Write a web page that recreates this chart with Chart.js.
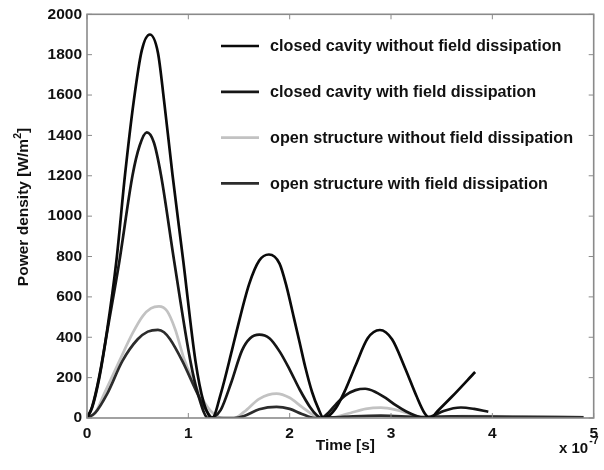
<!DOCTYPE html>
<html><head><meta charset="utf-8">
<script src="https://cdn.jsdelivr.net/npm/chart.js@4/dist/chart.umd.min.js"></script>
<style>html,body{margin:0;padding:0;background:#fff}#wrap{width:604px;height:470px}</style>
</head><body><div id="wrap"><canvas id="c" width="604" height="470"></canvas></div>
<script>
// ---- data (time in units of 1e-7 s, power density in W/m^2) ----
const seriesLabels = [
  'closed cavity without field dissipation',
  'closed cavity with field dissipation',
  'open structure without field dissipation',
  'open structure with field dissipation'
];
const s1T = [0,0.05,0.12,0.2,0.29,0.375,0.46,0.54,0.62,0.70,0.762,0.844,0.95,1.07,1.15,1.235,1.32,1.43,1.47,1.60,1.70,1.795,1.90,1.97,2.04,2.10,2.155,2.22,2.28,2.335,2.45,2.55,2.65,2.77,2.89,3.01,3.14,3.25,3.33,3.385,3.47,3.60,3.83];
const s1Y = [0,55,204,440,778,1204,1565,1820,1900,1810,1565,1204,778,283,80,0,120,335,417,663,780,810,765,650,500,370,250,130,50,0,45,140,260,395,436,390,245,110,25,0,40,105,228];
const s2T = [0,0.05,0.12,0.2,0.32,0.45,0.52,0.59,0.66,0.73,0.86,1.02,1.10,1.195,1.25,1.32,1.42,1.53,1.61,1.70,1.80,1.90,2.00,2.10,2.20,2.27,2.31,2.38,2.46,2.55,2.65,2.745,2.85,2.95,3.05,3.15,3.25,3.33,3.40,3.52,3.69,3.82,3.96];
const s2Y = [0,50,195,430,778,1204,1350,1415,1365,1204,778,283,110,0,5,40,171,335,395,413,395,330,240,140,55,12,0,25,70,112,138,145,128,98,62,32,10,0,8,35,52,45,31];
const s3T = [0,0.08,0.17,0.32,0.45,0.55,0.63,0.71,0.79,0.87,0.96,1.11,1.22,1.30,1.35,1.45,1.55,1.70,1.87,2.0,2.12,2.25,2.33,2.45,2.6,2.75,2.9,3.05,3.2,3.35,3.45,3.7,4.3,4.9];
const s3Y = [0,25,121,283,420,505,543,553,530,440,290,121,35,5,0,0,30,95,121,100,55,10,0,5,25,45,51,40,18,3,5,10,8,5];
const s4T = [0,0.08,0.2,0.35,0.5,0.6,0.70,0.76,0.82,0.94,1.09,1.17,1.24,1.45,1.55,1.70,1.87,2.0,2.12,2.25,2.5,2.9,3.3,3.6,4.2,4.9];
const s4Y = [0,25,121,283,390,428,437,425,390,283,121,45,0,0,10,43,55,45,20,0,5,12,5,8,6,3];
const xTicks = [0,1,2,3,4,5];
const yTicks = [0,200,400,600,800,1000,1200,1400,1600,1800,2000];

const colors = ['#0a0a0a','#161616','#c2c2c2','#2c2c2c'];
const FONT = '"Liberation Sans", Arial, sans-serif';

function pts(t, y){ return t.map((v,i)=>({x:v, y:y[i]})); }
const allT = [s1T,s2T,s3T,s4T], allY = [s1Y,s2Y,s3Y,s4Y];
const datasets = seriesLabels.map((lab,i)=>({
  label: lab,
  data: pts(allT[i], allY[i]),
  borderColor: colors[i],
  backgroundColor: colors[i],
  borderWidth: 2.7,
  pointRadius: 0,
  fill: false,
  cubicInterpolationMode: 'monotone'
}));
datasets[2].order = 4; datasets[3].order = 3; datasets[1].order = 2; datasets[0].order = 1;

const framePlugin = {
  id: 'frame',
  afterDatasetsDraw(chart){
    const {ctx, chartArea:a, scales} = chart;
    ctx.save();
    ctx.strokeStyle = '#8a8a8a';
    ctx.lineWidth = 1.6;
    ctx.strokeRect(a.left, a.top, a.right-a.left, a.bottom-a.top);
    ctx.lineWidth = 1;
    ctx.beginPath();
    xTicks.forEach(v=>{
      const px = scales.x.getPixelForValue(v);
      ctx.moveTo(px, a.bottom); ctx.lineTo(px, a.bottom-5);
      ctx.moveTo(px, a.top); ctx.lineTo(px, a.top+5);
    });
    yTicks.forEach(v=>{
      const py = scales.y.getPixelForValue(v);
      ctx.moveTo(a.left, py); ctx.lineTo(a.left+5, py);
      ctx.moveTo(a.right, py); ctx.lineTo(a.right-5, py);
    });
    ctx.stroke();
    ctx.restore();
  },
  afterDraw(chart){
    const {ctx, chartArea:a} = chart;
    ctx.save();
    ctx.fillStyle = '#111';
    // legend
    ctx.font = 'bold 16.2px ' + FONT;
    ctx.textBaseline = 'middle';
    ctx.textAlign = 'left';
    chart.data.datasets.forEach((ds,i)=>{
      const y = 46 + i*45.8;
      ctx.strokeStyle = ds.borderColor;
      ctx.lineWidth = 2.7;
      ctx.beginPath(); ctx.moveTo(221, y); ctx.lineTo(259, y); ctx.stroke();
      ctx.fillStyle = '#111';
      ctx.fillText(ds.label, 270, y+1);
    });
    // y title
    ctx.save();
    ctx.translate(24, 207);
    ctx.rotate(-Math.PI/2);
    ctx.font = 'bold 15.5px ' + FONT;
    const main = 'Power density [W/m', close = ']', sup = '2';
    const wMain = ctx.measureText(main).width, wClose = ctx.measureText(close).width;
    ctx.font = 'bold 10.5px ' + FONT;
    const wSup = ctx.measureText(sup).width;
    const total = wMain + wSup + wClose;
    let x0 = -total/2;
    ctx.textAlign = 'left';
    ctx.font = 'bold 15.5px ' + FONT;
    ctx.fillText(main, x0, 0);
    ctx.font = 'bold 10.5px ' + FONT;
    ctx.fillText(sup, x0 + wMain, -6);
    ctx.font = 'bold 15.5px ' + FONT;
    ctx.fillText(close, x0 + wMain + wSup, 0);
    ctx.restore();
    // x title
    ctx.font = 'bold 15.5px ' + FONT;
    ctx.textAlign = 'center';
    ctx.fillText('Time [s]', (a.left+a.right)/2 + 5, 446);
    // exponent
    ctx.textAlign = 'left';
    ctx.font = 'bold 15px ' + FONT;
    ctx.fillText('x 10', 559, 449);
    const w10 = ctx.measureText('x 10').width;
    ctx.font = 'bold 10.5px ' + FONT;
    ctx.fillText('-7', 559 + w10 + 1, 441);
    ctx.restore();
  }
};

new Chart(document.getElementById('c'), {
  type: 'line',
  data: { datasets },
  options: {
    responsive: false,
    animation: false,
    devicePixelRatio: 1,
    layout: { padding: { top: 11, right: 8, left: 0, bottom: 0 } },
    plugins: { legend: { display: false }, tooltip: { enabled: false } },
    scales: {
      x: {
        type: 'linear', min: 0, max: 5,
        afterBuildTicks: s => { s.ticks = xTicks.map(v=>({value:v})); },
        afterFit: s => { s.height = 52; },
        grid: { display: false, drawTicks: false },
        border: { display: false },
        ticks: { padding: 6, color: '#111', callback: v => String(v), font: { family: FONT, size: 15.5, weight: 'bold' }, maxRotation: 0 }
      },
      y: {
        min: 0, max: 2000,
        afterBuildTicks: s => { s.ticks = yTicks.map(v=>({value:v})); },
        afterFit: s => { s.width = 87; },
        grid: { display: false, drawTicks: false },
        border: { display: false },
        ticks: { padding: 5, color: '#111', callback: v => String(v), font: { family: FONT, size: 15.5, weight: 'bold' } }
      }
    }
  },
  plugins: [framePlugin]
});
</script>
</body></html>
